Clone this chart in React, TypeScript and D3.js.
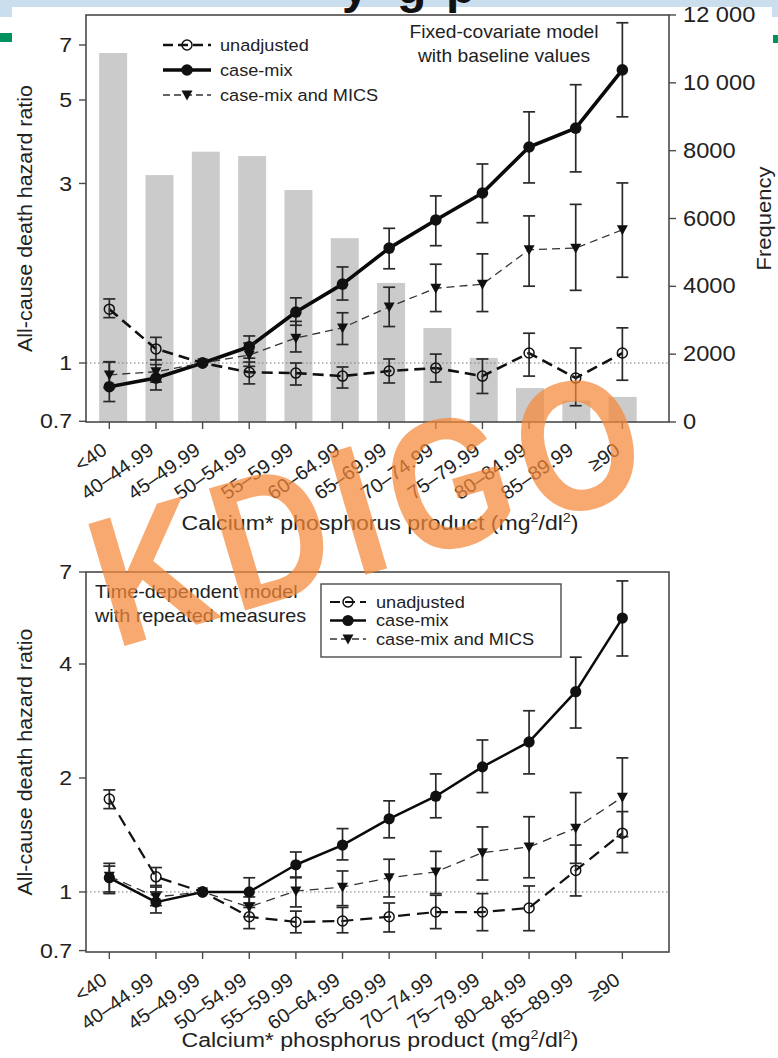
import React from 'react';
import * as d3 from 'd3';

// ---------- data ----------
const categories = ['<40', '40–44.99', '45–49.99', '50–54.99', '55–59.99', '60–64.99', '65–69.99', '70–74.99', '75–79.99', '80–84.99', '85–89.99', '≥90'];
const frequency = [10880, 7280, 7970, 7840, 6840, 5420, 4100, 2770, 1890, 1000, 630, 740];
const freqTicks = [0, 2000, 4000, 6000, 8000, 10000, 12000];

// Fixed-covariate model (top)
const fixUnadj = [1.39, 1.09, 1, 0.945, 0.94, 0.923, 0.952, 0.97, 0.923, 1.063, 0.912, 1.063];
const fixUnadjLo = [1.32, 1.02, null, 0.88, 0.874, 0.858, 0.885, 0.89, 0.83, 0.923, 0.77, 0.9];
const fixUnadjHi = [1.48, 1.17, null, 1.006, 1.0, 0.976, 1.025, 1.056, 1.025, 1.2, 1.096, 1.24];
const fixCase = [0.865, 0.912, 1, 1.105, 1.366, 1.62, 2.02, 2.4, 2.83, 3.75, 4.21, 6.01];
const fixCaseLo = [0.79, 0.848, null, 1.03, 1.26, 1.47, 1.78, 2.05, 2.36, 3.01, 3.22, 4.51];
const fixCaseHi = [1.006, 0.99, null, 1.18, 1.49, 1.8, 2.28, 2.78, 3.38, 4.65, 5.49, 8.02];
const fixMics = [0.93, 0.948, 1, 1.05, 1.165, 1.24, 1.41, 1.58, 1.62, 2.0, 2.02, 2.26];
const fixMicsLo = [0.86, 0.89, null, 0.98, 1.07, 1.12, 1.25, 1.37, 1.37, 1.6, 1.56, 1.69];
const fixMicsHi = [1.008, 1.02, null, 1.13, 1.29, 1.36, 1.59, 1.83, 1.95, 2.46, 2.64, 3.01];
const fixTicks = [0.7, 1, 3, 5, 7];

// Time-dependent model (bottom)
const tdUnadj = [1.76, 1.096, 1, 0.86, 0.833, 0.838, 0.86, 0.885, 0.885, 0.907, 1.14, 1.43];
const tdUnadjLo = [1.66, 1.03, null, 0.8, 0.78, 0.78, 0.784, 0.8, 0.79, 0.79, 0.976, 1.27];
const tdUnadjHi = [1.86, 1.16, null, 0.91, 0.89, 0.91, 0.935, 0.98, 0.99, 1.037, 1.33, 1.63];
const tdCase = [1.09, 0.94, 1, 1.0, 1.18, 1.33, 1.56, 1.79, 2.14, 2.49, 3.38, 5.29];
const tdCaseLo = [0.99, 0.88, null, 0.935, 1.09, 1.215, 1.39, 1.57, 1.83, 2.05, 2.71, 4.2];
const tdCaseHi = [1.19, 1.0, null, 1.09, 1.275, 1.47, 1.74, 2.05, 2.52, 3.01, 4.17, 6.63];
const tdMics = [1.1, 0.97, 1, 0.913, 1.006, 1.03, 1.09, 1.13, 1.27, 1.315, 1.475, 1.78];
const tdMicsLo = [1.0, 0.92, null, 0.86, 0.913, 0.92, 0.97, 0.99, 1.075, 1.09, 1.19, 1.4];
const tdMicsHi = [1.17, 1.04, null, 0.97, 1.095, 1.136, 1.22, 1.28, 1.485, 1.58, 1.83, 2.26];
const tdTicks = [0.7, 1, 2, 4, 7];

const legendLabels = ['unadjusted', 'case-mix', 'case-mix and MICS'];

// ---------- style ----------
const W = 778, H = 1058;
const FONT = "'Liberation Sans', Arial, Helvetica, sans-serif";
const SX = 1.1;
const INK = '#222';

type MarkerType = 'open' | 'filled' | 'tri';
interface Style { width: number; dash?: string; marker: MarkerType; color: string; r: number }

function Txt(props: { x: number; y: number; size: number; anchor?: string; rotate?: number; weight?: string; fill?: string; baseline?: string; children: React.ReactNode; sx?: number }) {
  const { x, y, size, anchor = 'start', rotate = 0, weight = 'normal', fill = INK, baseline = 'auto', children, sx = SX } = props;
  return (
    <text transform={`translate(${x},${y}) rotate(${rotate}) scale(${sx},1)`} fontSize={size} fontFamily={FONT}
      textAnchor={anchor as any} fontWeight={weight} fill={fill} dominantBaseline={baseline as any}>{children}</text>
  );
}

function marker(type: MarkerType, cx: number, cy: number, r: number, key: string) {
  if (type === 'filled') return <circle key={key} cx={cx} cy={cy} r={r} fill="#111" />;
  if (type === 'open') return <circle key={key} cx={cx} cy={cy} r={r} fill="none" stroke="#111" strokeWidth={1.5} />;
  const p = d3.path();
  p.moveTo(cx - r, cy - r * 0.8);
  p.lineTo(cx + r, cy - r * 0.8);
  p.lineTo(cx, cy + r);
  p.closePath();
  return <path key={key} d={p.toString()} fill="#111" />;
}

export default function App() {
  const PL = 86, PR = 669;
  const T1 = 15, B1 = 422, T2 = 572, B2 = 952;
  const x = d3.scaleLinear().domain([0.5, 13]).range([PL, PR]);
  const xb = d3.scaleLinear().domain([0.5, 13]).range([PL + 4, PR]);
  const y1 = d3.scaleLog().domain([0.697, 8.41]).range([B1, T1]);
  const yf = d3.scaleLinear().domain([0, 12000]).range([B1, T1]);
  const y2 = d3.scaleLog().domain([0.694, 7]).range([B2, T2]);

  const topStyles: Style[] = [
    { width: 2.6, dash: '11,6', marker: 'open', color: '#111', r: 5 },
    { width: 3.6, marker: 'filled', color: '#0a0a0a', r: 5.8 },
    { width: 1.3, dash: '8,5', marker: 'tri', color: '#333', r: 5.5 },
  ];
  const botStyles: Style[] = [
    { width: 2.2, dash: '12,7', marker: 'open', color: '#111', r: 5 },
    { width: 2.5, marker: 'filled', color: '#0a0a0a', r: 5.6 },
    { width: 1.3, dash: '9,6', marker: 'tri', color: '#333', r: 5.5 },
  ];

  const renderPanel = (
    id: string,
    ys: d3.ScaleLogarithmic<number, number>,
    top: number, bottom: number,
    vals: number[][], los: (number | null)[][], his: (number | null)[][],
    styles: Style[], ticks: number[],
  ) => {
    const line = d3.line<number>().x((_, i) => x(i + 1)).y(v => ys(v));
    const out: React.ReactNode[] = [];
    out.push(<line key={id + 'ref'} x1={PL} x2={PR} y1={ys(1)} y2={ys(1)} stroke="#777" strokeWidth={1} strokeDasharray="1.5,2.5" />);
    vals.forEach((v, s) => {
      out.push(<path key={id + 'l' + s} d={line(v) || ''} fill="none" stroke={styles[s].color} strokeWidth={styles[s].width}
        strokeDasharray={styles[s].dash} strokeLinejoin="round" />);
    });
    vals.forEach((v, s) => {
      v.forEach((_, i) => {
        const lo = los[s][i], hi = his[s][i];
        if (lo == null || hi == null) return;
        const cx = x(i + 1);
        out.push(
          <g key={id + 'e' + s + '-' + i} stroke="#2a2a2a" strokeWidth={1.7}>
            <line x1={cx} x2={cx} y1={ys(lo)} y2={ys(hi)} />
            <line x1={cx - 6} x2={cx + 6} y1={ys(lo)} y2={ys(lo)} />
            <line x1={cx - 6} x2={cx + 6} y1={ys(hi)} y2={ys(hi)} />
          </g>
        );
      });
    });
    vals.forEach((v, s) => {
      v.forEach((val, i) => out.push(marker(styles[s].marker, x(i + 1), ys(val), styles[s].r, id + 'm' + s + '-' + i)));
    });
    out.push(<rect key={id + 'frame'} x={PL} y={top} width={PR - PL} height={bottom - top} fill="none" stroke="#4a4a4a" strokeWidth={1.6} />);
    ticks.forEach(t => {
      out.push(<line key={id + 'yt' + t} x1={PL - 7} x2={PL} y1={ys(t)} y2={ys(t)} stroke="#4a4a4a" strokeWidth={1.4} />);
      out.push(<Txt key={id + 'yl' + t} x={PL - 14} y={ys(t)} size={21} anchor="end" baseline="central">{String(t)}</Txt>);
    });
    categories.forEach((c, i) => {
      out.push(<line key={id + 'xt' + i} x1={x(i + 1)} x2={x(i + 1)} y1={bottom} y2={bottom + 7} stroke="#4a4a4a" strokeWidth={1.4} />);
      out.push(<Txt key={id + 'xl' + i} x={x(i + 1) - 1} y={bottom + 31} size={19.5} sx={1.02} anchor="end" rotate={-35}>{c}</Txt>);
    });
    return out;
  };

  const legendRow = (styles: Style, x1: number, x2: number, cy: number, label: string, tx: number, size: number, key: string) => (
    <g key={key}>
      <line x1={x1} x2={x2} y1={cy} y2={cy} stroke={styles.color} strokeWidth={styles.width} strokeDasharray={styles.dash ? (styles.marker === 'open' ? '10,5' : '7,4') : undefined} />
      {marker(styles.marker, (x1 + x2) / 2, cy, styles.r, key + 'mk')}
      <Txt x={tx} y={cy} size={size} baseline="central">{label}</Txt>
    </g>
  );

  const xTitle = (cy: number, key: string) => (
    <text key={key} transform={`translate(380,${cy}) scale(${SX},1)`} fontSize={21} fontFamily={FONT} textAnchor="middle" fill={INK}>
      Calcium* phosphorus product (mg<tspan dy={-8} fontSize={13}>2</tspan><tspan dy={8}>/dl</tspan><tspan dy={-8} fontSize={13}>2</tspan><tspan dy={8}>)</tspan>
    </text>
  );

  return (
    <svg width={W} height={H} style={{ position: 'absolute', left: 0, top: 0, background: '#fff' }}>
      <rect x={0} y={0} width={W} height={H} fill="#fff" />
      {/* page header */}
      <rect x={0} y={0} width={W} height={7} fill="#cadeee" />
      <rect x={0} y={0} width={12} height={17} fill="#cadeee" />
      <rect x={772} y={0} width={6} height={17} fill="#cadeee" />
      <rect x={0} y={33} width={12} height={9} fill="#00925c" />
      <rect x={773} y={35} width={5} height={8} fill="#00925c" />
      <text x={342} y={3} fontSize={48} fontWeight="bold" fontFamily={FONT} fill="#111">y</text>
      <text x={397} y={3} fontSize={48} fontWeight="bold" fontFamily={FONT} fill="#111">g</text>
      <text x={446} y={3} fontSize={48} fontWeight="bold" fontFamily={FONT} fill="#111">p</text>

      {/* top panel bars */}
      {frequency.map((f, i) => (
        <rect key={'bar' + i} x={xb(i + 1) - 14} y={yf(f)} width={28} height={B1 - yf(f)} fill="#cbcbcb" />
      ))}
      {renderPanel('t', y1, T1, B1,
        [fixUnadj, fixCase, fixMics], [fixUnadjLo, fixCaseLo, fixMicsLo], [fixUnadjHi, fixCaseHi, fixMicsHi],
        topStyles, fixTicks)}
      {freqTicks.map(t => (
        <g key={'ft' + t}>
          <line x1={PR} x2={PR + 7} y1={yf(t)} y2={yf(t)} stroke="#4a4a4a" strokeWidth={1.4} />
          <Txt x={PR + 14} y={yf(t)} size={21.5} baseline="central">{t >= 10000 ? d3.format(',')(t).replace(',', ' ') : String(t)}</Txt>
        </g>
      ))}
      <Txt x={764} y={(T1 + B1) / 2} size={20} anchor="middle" rotate={-90} baseline="central">Frequency</Txt>
      <Txt x={25} y={(T1 + B1) / 2} size={19.5} anchor="middle" rotate={-90} baseline="central">All-cause death hazard ratio</Txt>
      {xTitle(530, 'xt1')}
      {legendLabels.map((l, i) => legendRow(topStyles[i], 163, 211, 45 + i * 25, l, 220, 16.5, 'lg1' + i))}
      <Txt x={504} y={32} size={17.5} anchor="middle" baseline="central">Fixed-covariate model</Txt>
      <Txt x={504} y={56} size={17.5} anchor="middle" baseline="central">with baseline values</Txt>

      {/* bottom panel */}
      {renderPanel('b', y2, T2, B2,
        [tdUnadj, tdCase, tdMics], [tdUnadjLo, tdCaseLo, tdMicsLo], [tdUnadjHi, tdCaseHi, tdMicsHi],
        botStyles, tdTicks)}
      <Txt x={25} y={(T2 + B2) / 2} size={19.5} anchor="middle" rotate={-90} baseline="central">All-cause death hazard ratio</Txt>
      {xTitle(1047, 'xt2')}
      <rect x={321} y={584} width={240} height={73} fill="#fff" stroke="#4a4a4a" strokeWidth={1.4} />
      {legendLabels.map((l, i) => legendRow(botStyles[i], 330, 366, 602 + i * 18.5, l, 376, 16.5, 'lg2' + i))}
      <Txt x={95} y={592} size={18} baseline="central">Time-dependent model</Txt>
      <Txt x={95} y={616} size={18} baseline="central">with repeated measures</Txt>

      {/* watermark */}
      <text transform="translate(372,506) rotate(-16.5) scale(0.85,1)" fontSize={185} fontWeight="bold" fontFamily={FONT}
        textAnchor="middle" dominantBaseline="central" letterSpacing={14} fill="#f5893a" opacity={0.72}>KDIGO</text>
    </svg>
  );
}
